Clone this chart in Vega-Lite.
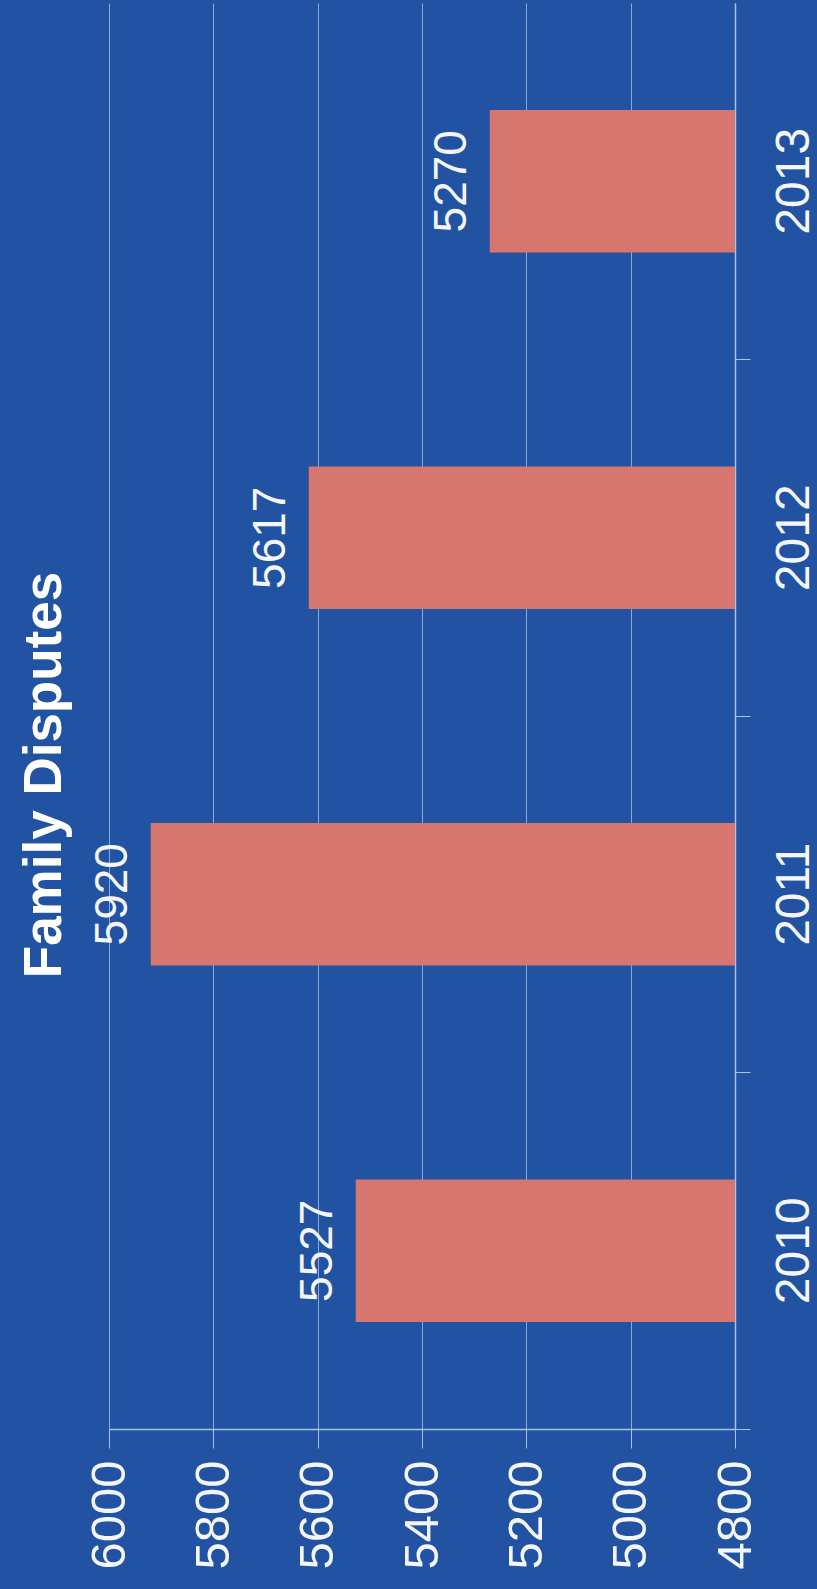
{
  "$schema": "https://vega.github.io/schema/vega-lite/v6.json",
  "width": 626,
  "height": 1426,
  "autosize": {"type": "none"},
  "padding": {"left": 109, "top": 3, "right": 82, "bottom": 160},
  "background": "#2153a2",
  "title": {
    "text": "Family Disputes",
    "orient": "left",
    "anchor": "middle",
    "fontSize": 53,
    "fontWeight": "bold",
    "color": "#ffffff",
    "font": "Liberation Sans",
    "offset": 13,
    "dx": -59
  },
  "config": {"view": {"stroke": null}},
  "data": {
    "values": [
      {"year": "2010", "disputes": 5527},
      {"year": "2011", "disputes": 5920},
      {"year": "2012", "disputes": 5617},
      {"year": "2013", "disputes": 5270}
    ]
  },
  "encoding": {
    "y": {
      "field": "year",
      "type": "nominal",
      "sort": "descending",
      "scale": {"paddingInner": 0.6, "paddingOuter": 0.3},
      "axis": {
        "orient": "right",
        "title": null,
        "labelAngle": -90,
        "labelAlign": "center",
        "labelBaseline": "top",
        "labelFontSize": 48,
        "labelColor": "#f4f6fb",
        "labelFont": "Liberation Sans",
        "labelPadding": 20,
        "tickSize": 15,
        "tickColor": "#a9c2ea",
        "domainColor": "#a9c2ea",
        "domainWidth": 1.5,
        "bandPosition": 1.75,
        "grid": false
      }
    },
    "x": {
      "field": "disputes",
      "type": "quantitative",
      "scale": {"domain": [4800, 6000], "reverse": true, "zero": false, "nice": false},
      "axis": {
        "orient": "bottom",
        "title": null,
        "format": "d",
        "values": [4800, 5000, 5200, 5400, 5600, 5800, 6000],
        "labelAngle": -90,
        "labelAlign": "right",
        "labelBaseline": "middle",
        "labelFontSize": 49,
        "labelColor": "#f4f6fb",
        "labelFont": "Liberation Sans",
        "labelPadding": 12,
        "tickSize": 19,
        "tickColor": "#a9c2ea",
        "domainColor": "#a9c2ea",
        "domainWidth": 1.5,
        "grid": true,
        "gridColor": "#b9cff0",
        "gridOpacity": 0.7
      }
    }
  },
  "layer": [
    {
      "mark": {"type": "bar", "color": "#d6766f"},
      "encoding": {"x2": {"datum": 4800}}
    },
    {
      "mark": {
        "type": "text",
        "angle": -90,
        "align": "center",
        "baseline": "alphabetic",
        "dy": -24,
        "fontSize": 46,
        "color": "#f4f6fb",
        "font": "Liberation Sans"
      },
      "encoding": {"text": {"field": "disputes", "type": "quantitative", "format": "d"}}
    }
  ]
}
